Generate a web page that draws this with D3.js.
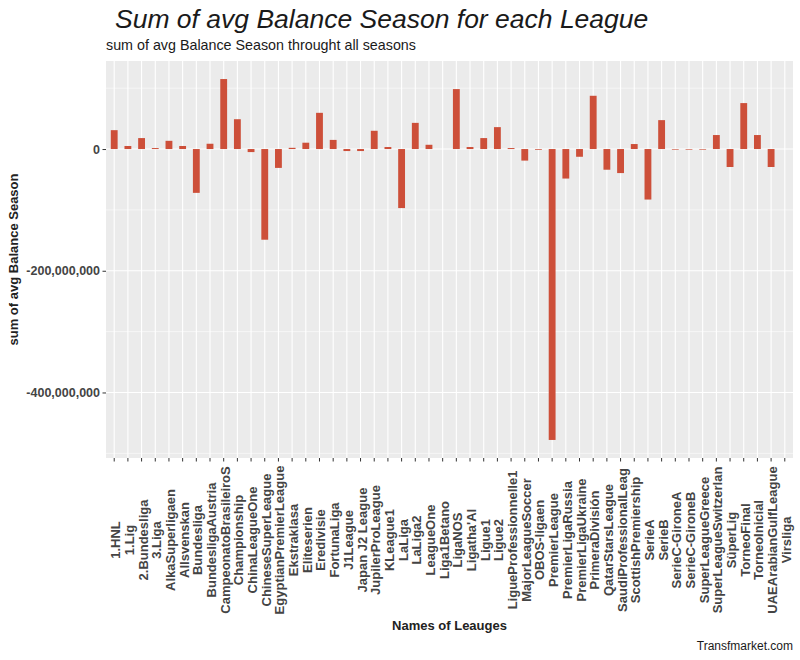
<!DOCTYPE html>
<html>
<head>
<meta charset="utf-8">
<script src="https://cdn.jsdelivr.net/npm/d3@7"></script>
<style>
  body { margin: 0; background: #fff; }
  svg { font-family: "Liberation Sans", Arial, sans-serif; }
</style>
</head>
<body>
<svg id="chart" width="800" height="660"></svg>
<script>
// league names (truncated to 21 chars like the source)
const leagues = [
    '1.HNL', '1.Lig', '2.Bundesliga', '3.Liga', 'AlkaSuperligaen', 'Allsvenskan',
    'Bundesliga', 'BundesligaAustria', 'CampeonatoBrasileiroS', 'Championship',
    'ChinaLeagueOne', 'ChineseSuperLeague', 'EgyptianPremierLeague', 'Ekstraklasa',
    'Eliteserien', 'Eredivisie', 'FortunaLiga', 'J1League', 'Japan J2 League',
    'JupilerProLeague', 'KLeague1', 'LaLiga', 'LaLiga2', 'LeagueOne', 'Liga1Betano',
    'LigaNOS', "Ligatha'Al", 'Ligue1', 'Ligue2', 'LigueProfessionnelle1',
    'MajorLeagueSoccer', 'OBOS-ligaen', 'PremierLeague', 'PremierLigaRussia',
    'PremierLigaUkraine', 'PrimeraDivisión', 'QatarStarsLeague', 'SaudiProfessionalLeag',
    'ScottishPremiership', 'SerieA', 'SerieB', 'SerieC-GironeA', 'SerieC-GironeB',
    'SuperLeagueGreece', 'SuperLeagueSwitzerlan', 'SüperLig', 'TorneoFinal',
    'TorneoInicial', 'UAEArabianGulfLeague', 'Virsliga'
];

// sum of avg balance per season
const balances = [
    31e6, 5e6, 18e6, 1.6e6, 13.5e6, 5e6,
    -72e6, 8.7e6, 115e6, 49e6,
    -5e6, -149e6, -31e6, 2e6,
    10.4e6, 59.5e6, 15e6, -3.3e6, -3.3e6,
    30e6, 3.3e6, -97e6, 43e6, 7e6, 0,
    98.5e6, 3.3e6, 18e6, 36e6, 1.6e6,
    -19e6, -1.2e6, -478e6, -48.5e6,
    -12.7e6, 87.5e6, -34e6, -39.5e6,
    8.2e6, -83e6, 47.5e6, -1e6, -1e6,
    -1e6, 23e6, -29.5e6, 75.5e6,
    23e6, -29.5e6, 0
];

const yTicks = [0, -200e6, -400e6];
const yMinor = [100e6, -100e6, -300e6, -500e6];

const title = 'Sum of avg Balance Season for each League';
const subtitle = 'sum of avg Balance Season throught all seasons';
const xTitle = 'Names of Leauges';
const yTitle = 'sum of avg Balance Season';
const caption = 'Transfmarket.com';

const data = leagues.map((name, i) => ({ name, value: balances[i] }));

const panel = { left: 106, right: 793, top: 61, bottom: 458 };
const svg = d3.select('#chart');

// scales: discrete x like ggplot (0.6 expansion), y with 5% expansion
const x = d3.scaleBand()
    .domain(leagues)
    .range([panel.left, panel.right])
    .paddingInner(0.5)
    .paddingOuter(0.35);

const [lo, hi] = d3.extent(balances.concat([0]));
const pad = (hi - lo) * 0.05;
const y = d3.scaleLinear()
    .domain([lo - pad, hi + pad])
    .range([panel.bottom, panel.top]);

const fmt = d3.formatLocale({ decimal: '.', thousands: ',', grouping: [3], currency: ['$', ''], minus: '-' }).format(',');

// panel background
svg.append('rect')
    .attr('x', panel.left)
    .attr('y', panel.top)
    .attr('width', panel.right - panel.left)
    .attr('height', panel.bottom - panel.top)
    .attr('fill', '#ebebeb');

// grid
const grid = svg.append('g').attr('stroke', '#fff');
grid.selectAll('.minor').data(yMinor.filter(v => y(v) > panel.top && y(v) < panel.bottom))
    .join('line')
    .attr('x1', panel.left).attr('x2', panel.right)
    .attr('y1', d => y(d)).attr('y2', d => y(d))
    .attr('stroke-width', 0.55);
grid.selectAll('.major').data(yTicks)
    .join('line')
    .attr('x1', panel.left).attr('x2', panel.right)
    .attr('y1', d => y(d)).attr('y2', d => y(d))
    .attr('stroke-width', 1.1);
grid.selectAll('.vert').data(leagues)
    .join('line')
    .attr('x1', d => x(d) + x.bandwidth() / 2).attr('x2', d => x(d) + x.bandwidth() / 2)
    .attr('y1', panel.top).attr('y2', panel.bottom)
    .attr('stroke-width', 1.1);

// bars
svg.append('g')
    .selectAll('rect')
    .data(data)
    .join('rect')
    .attr('x', d => x(d.name))
    .attr('width', x.bandwidth())
    .attr('y', d => y(Math.max(0, d.value)))
    .attr('height', d => Math.abs(y(d.value) - y(0)))
    .attr('fill', '#cd4f39');

// y axis
const yAxis = svg.append('g')
    .attr('transform', `translate(${panel.left},0)`)
    .call(d3.axisLeft(y).tickValues(yTicks).tickFormat(fmt).tickSize(3.5).tickPadding(2.5));
yAxis.select('.domain').remove();
yAxis.selectAll('.tick line').attr('stroke', '#333');
yAxis.selectAll('.tick text')
    .attr('fill', '#444')
    .attr('font-size', 12.5)
    .attr('font-weight', 'bold')
    .attr('font-family', '"Liberation Sans", Arial, sans-serif');

// x axis, labels rotated and centred vertically like ggplot
const xAxis = svg.append('g')
    .attr('transform', `translate(0,${panel.bottom})`)
    .call(d3.axisBottom(x).tickSize(3.5).tickSizeOuter(0));
xAxis.select('.domain').remove();
xAxis.selectAll('.tick line').attr('stroke', '#333');
xAxis.selectAll('.tick text')
    .attr('fill', '#444')
    .attr('font-size', 13)
    .attr('font-weight', 'bold')
    .attr('font-family', '"Liberation Sans", Arial, sans-serif')
    .attr('text-anchor', 'middle')
    .attr('dy', null)
    .attr('y', null)
    .attr('transform', 'translate(6,82) rotate(-90)');

// titles
svg.append('text')
    .attr('x', 115).attr('y', 28)
    .attr('font-size', 26.5)
    .attr('font-style', 'italic')
    .attr('fill', '#1a1a1a')
    .text(title);

svg.append('text')
    .attr('x', 106).attr('y', 50)
    .attr('font-size', 14.3)
    .attr('fill', '#1a1a1a')
    .text(subtitle);

svg.append('text')
    .attr('x', (panel.left + panel.right) / 2).attr('y', 630)
    .attr('text-anchor', 'middle')
    .attr('font-size', 13)
    .attr('font-weight', 'bold')
    .attr('fill', '#222')
    .text(xTitle);

svg.append('text')
    .attr('transform', `translate(18,${(panel.top + panel.bottom) / 2}) rotate(-90)`)
    .attr('text-anchor', 'middle')
    .attr('font-size', 13)
    .attr('font-weight', 'bold')
    .attr('fill', '#222')
    .text(yTitle);

svg.append('text')
    .attr('x', panel.right).attr('y', 650)
    .attr('text-anchor', 'end')
    .attr('font-size', 12)
    .attr('fill', '#1a1a1a')
    .text(caption);
</script>
</body>
</html>
